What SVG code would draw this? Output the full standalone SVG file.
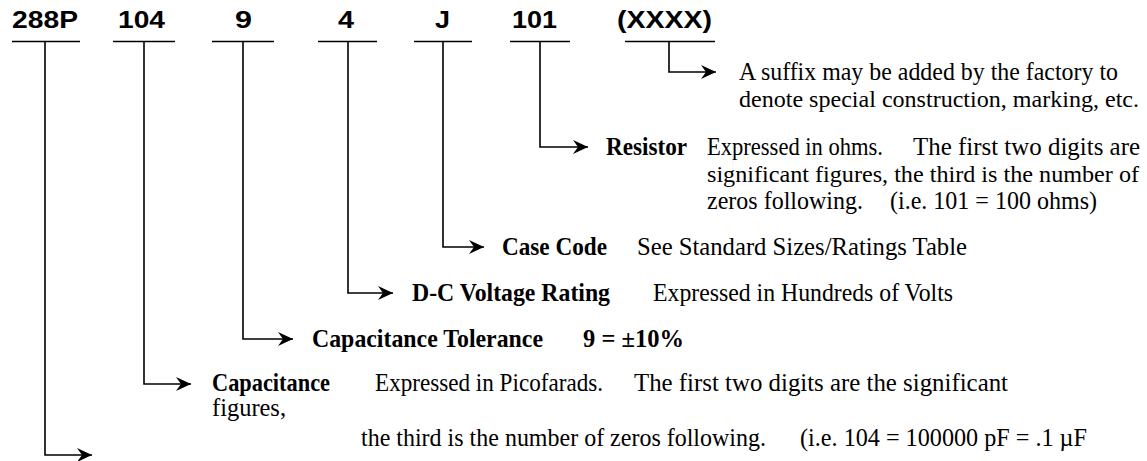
<svg xmlns="http://www.w3.org/2000/svg" width="1147" height="461" viewBox="0 0 1147 461">
<style>
.hd{font-family:"Liberation Sans",Arial,sans-serif;font-weight:bold;font-size:24px;fill:#000}
.t{font-family:"Liberation Serif","Times New Roman",serif;font-size:25px;fill:#000}
.s{font-size:24px}
.b{font-family:"Liberation Serif","Times New Roman",serif;font-size:25px;font-weight:bold;fill:#000}
.ln{stroke:#000;stroke-width:1.6;fill:none}
</style>
<defs>
<marker id="ah" markerWidth="18" markerHeight="16" refX="16" refY="8" orient="auto" markerUnits="userSpaceOnUse">
<path d="M16,8 L1,1 L6,8 L1,15 Z" fill="#000"/>
</marker>
</defs>
<rect width="1147" height="461" fill="#fff"/>
<g id="header-288P"><text class="hd" x="12" y="28" textLength="66" lengthAdjust="spacingAndGlyphs">288P</text></g>
<g id="header-104"><text class="hd" x="118" y="28" textLength="47" lengthAdjust="spacingAndGlyphs">104</text></g>
<g id="header-9"><text class="hd" x="235" y="28" textLength="17" lengthAdjust="spacingAndGlyphs">9</text></g>
<g id="header-4"><text class="hd" x="338" y="28" textLength="16" lengthAdjust="spacingAndGlyphs">4</text></g>
<g id="header-J"><text class="hd" x="435" y="28" textLength="15" lengthAdjust="spacingAndGlyphs">J</text></g>
<g id="header-101"><text class="hd" x="512" y="28" textLength="45" lengthAdjust="spacingAndGlyphs">101</text></g>
<g id="header-XXXX"><text class="hd" x="617" y="28" textLength="95" lengthAdjust="spacingAndGlyphs">(XXXX)</text></g>

<g id="connectors" class="ln">
<path d="M12,41.5 H80 M45,41.5 V455 H92" marker-end="url(#ah)"/>
<path d="M113,41.5 H175 M144,41.5 V384 H191" marker-end="url(#ah)"/>
<path d="M212,41.5 H274 M243,41.5 V339 H293" marker-end="url(#ah)"/>
<path d="M318,41.5 H377 M348,41.5 V293 H393" marker-end="url(#ah)"/>
<path d="M414,41.5 H472 M443,41.5 V247 H484" marker-end="url(#ah)"/>
<path d="M510,41.5 H570 M540,41.5 V147 H588" marker-end="url(#ah)"/>
<path d="M625,41.5 H715 M669,41.5 V72 H716" marker-end="url(#ah)"/>
</g>

<g id="suffix">
<text class="t" x="739" y="80" textLength="379" lengthAdjust="spacingAndGlyphs">A suffix may be added by the factory to</text>
<text class="t s" x="739" y="107" textLength="400" lengthAdjust="spacingAndGlyphs">denote special construction, marking, etc.</text>
</g>
<g id="resistor">
<text class="b" x="606" y="155" textLength="81" lengthAdjust="spacingAndGlyphs">Resistor</text>
<text class="t" x="707" y="155" textLength="176" lengthAdjust="spacingAndGlyphs">Expressed in ohms.</text>
<text class="t" x="913" y="155" textLength="227" lengthAdjust="spacingAndGlyphs">The first two digits are</text>
<text class="t s" x="707" y="182" textLength="432" lengthAdjust="spacingAndGlyphs">significant figures, the third is the number of</text>
<text class="t" x="707" y="209" textLength="156" lengthAdjust="spacingAndGlyphs">zeros following.</text>
<text class="t" x="890" y="209" textLength="207" lengthAdjust="spacingAndGlyphs">(i.e. 101 = 100 ohms)</text>
</g>
<g id="case-code">
<text class="b" x="502" y="255" textLength="105" lengthAdjust="spacingAndGlyphs">Case Code</text>
<text class="t" x="637" y="255" textLength="330" lengthAdjust="spacingAndGlyphs">See Standard Sizes/Ratings Table</text>
</g>
<g id="voltage">
<text class="b" x="412" y="301" textLength="198" lengthAdjust="spacingAndGlyphs">D-C Voltage Rating</text>
<text class="t" x="653" y="301" textLength="300" lengthAdjust="spacingAndGlyphs">Expressed in Hundreds of Volts</text>
</g>
<g id="tolerance">
<text class="b" x="312" y="347" textLength="231" lengthAdjust="spacingAndGlyphs">Capacitance Tolerance</text>
<text class="b" x="583" y="347" textLength="101" lengthAdjust="spacingAndGlyphs">9 = ±10%</text>
</g>
<g id="capacitance">
<text class="b" x="212" y="391" textLength="118" lengthAdjust="spacingAndGlyphs">Capacitance</text>
<text class="t" x="375" y="391" textLength="228" lengthAdjust="spacingAndGlyphs">Expressed in Picofarads.</text>
<text class="t" x="634" y="391" textLength="374" lengthAdjust="spacingAndGlyphs">The first two digits are the significant</text>
<text class="t" x="212" y="416" textLength="74" lengthAdjust="spacingAndGlyphs">figures,</text>
<text class="t" x="361" y="446" textLength="405" lengthAdjust="spacingAndGlyphs">the third is the number of zeros following.</text>
<text class="t" x="800" y="446" textLength="287" lengthAdjust="spacingAndGlyphs">(i.e. 104 = 100000 pF = .1 µF</text>
</g>
</svg>
